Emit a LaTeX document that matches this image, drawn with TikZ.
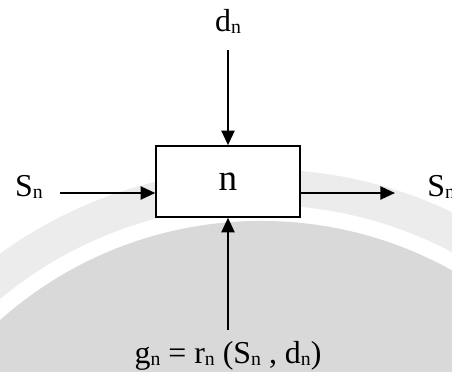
\documentclass[tikz,border=0pt]{standalone}
\usepackage{fontspec}
\setmainfont{Liberation Serif}
\usetikzlibrary{arrows.meta, positioning}
\definecolor{cBand}{RGB}{236,236,236}
\definecolor{cDisk}{RGB}{217,217,217}
\newcommand{\lo}[1]{\raisebox{-0.06em}{\scalebox{0.62}{#1}}}

\begin{document}
\begin{tikzpicture}[
  flow/.style={-{Triangle[length=11pt, width=10pt]}, line width=1.2pt},
  tag/.style={inner sep=0pt, font=\fontsize{24}{28}\selectfont}
]
  \clip (0,0) rectangle (11.96,9.843);
  % watermark behind the diagram
  \fill[cBand] (6.906,-6.403) circle (11.77);
  \fill[white] (6.906,-6.403) circle (10.82);
  \fill[cDisk] (6.906,-6.403) circle (10.40);

  \node[draw, fill=white, line width=1.2pt, minimum width=3.81cm, minimum height=1.88cm,
    font=\fontsize{28}{32}\selectfont] (stage) at (6.033,5.041) {n};

  \coordinate (topIn) at (6.033,8.52);
  \coordinate (botIn) at (6.033,1.111);
  \coordinate (leftIn) at (1.588,4.736);
  \coordinate (rightOut) at (10.45,4.736);

  \node[tag, above=0.42cm of topIn] (dIn) {d\lo{n}};
  \node[tag, left=0.45cm of leftIn, yshift=1.5mm] (sIn) {S\lo{n}};
  \node[tag, right=0.85cm of rightOut, yshift=1.5mm] (sOut) {S\lo{n}};
  \node[tag, below=0.3cm of botIn] (ret)
    {g\lo{n} = r\lo{n} (S\lo{n} , d\lo{n})};

  \draw[flow] (topIn) -- (stage.north);
  \draw[flow] (botIn) -- (stage.south);
  \draw[flow] (leftIn) -- (stage.west |- leftIn);
  \draw[flow] (stage.east |- rightOut) -- (rightOut);
\end{tikzpicture}
\end{document}
